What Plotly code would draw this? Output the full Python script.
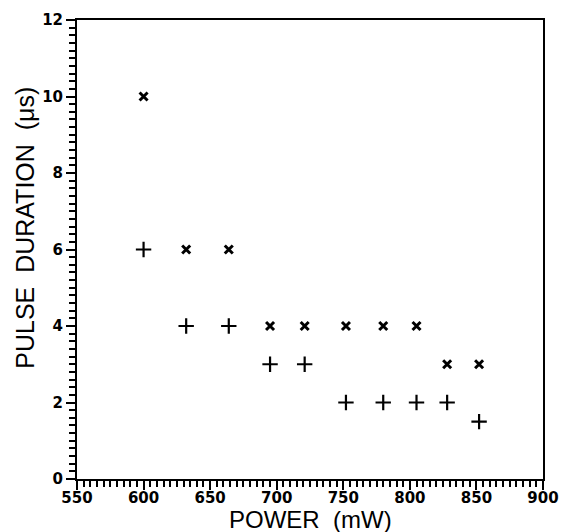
import plotly.graph_objects as go

power = [600, 632, 664, 695, 721, 752, 780, 805, 828, 852]
dur_x = [10, 6, 6, 4, 4, 4, 4, 4, 3, 3]
dur_plus = [6, 4, 4, 3, 3, 2, 2, 2, 2, 1.5]

x_ticks = [550, 600, 650, 700, 750, 800, 850, 900]
y_ticks = [0, 2, 4, 6, 8, 10, 12]

fig = go.Figure()
fig.add_trace(go.Scatter(
    x=power, y=dur_x, mode="markers",
    marker=dict(symbol="x-thin-open", size=8, line=dict(width=3, color="black"), color="black"),
    showlegend=False))
fig.add_trace(go.Scatter(
    x=power, y=dur_plus, mode="markers",
    marker=dict(symbol="cross-thin-open", size=11, line=dict(width=2.2, color="black"), color="black"),
    showlegend=False))

tickfont = dict(family="DejaVu Sans", size=15, color="black", weight="bold")
titlefont = dict(family="Liberation Sans, Arial", size=24, color="black")

fig.update_xaxes(
    range=[550, 900], tickvals=x_ticks, ticktext=[str(v) for v in x_ticks],
    ticks="outside", ticklen=9, tickwidth=2, tickcolor="black",
    minor=dict(dtick=5, ticks="outside", ticklen=6, tickwidth=1.5, tickcolor="black"),
    showline=True, linewidth=2, linecolor="black", mirror=True,
    showgrid=False, zeroline=False, tickfont=tickfont, automargin=False,
    ticklabelstandoff=-5,
)
fig.update_yaxes(
    range=[0, 12], tickvals=y_ticks, ticktext=[str(v) for v in y_ticks],
    ticks="outside", ticklen=9, tickwidth=2, tickcolor="black",
    minor=dict(dtick=0.2, ticks="outside", ticklen=6, tickwidth=1.5, tickcolor="black"),
    showline=True, linewidth=2, linecolor="black", mirror=True,
    showgrid=False, zeroline=False, tickfont=tickfont, automargin=False,
)
fig.add_annotation(text="POWER  (mW)", xref="paper", yref="paper",
                   x=0.5, y=-0.089, xanchor="center", yanchor="middle",
                   showarrow=False, font=titlefont)
fig.add_annotation(text="PULSE  DURATION  (μs)", xref="paper", yref="paper",
                   x=-0.112, y=0.547, xanchor="center", yanchor="middle",
                   textangle=-90, showarrow=False, font=dict(family="Liberation Sans, Arial", size=25, color="black"))
fig.update_layout(
    width=561, height=532,
    margin=dict(l=77, r=18, t=20, b=53),
    plot_bgcolor="white", paper_bgcolor="white",
)
fig.write_html("out.html")
